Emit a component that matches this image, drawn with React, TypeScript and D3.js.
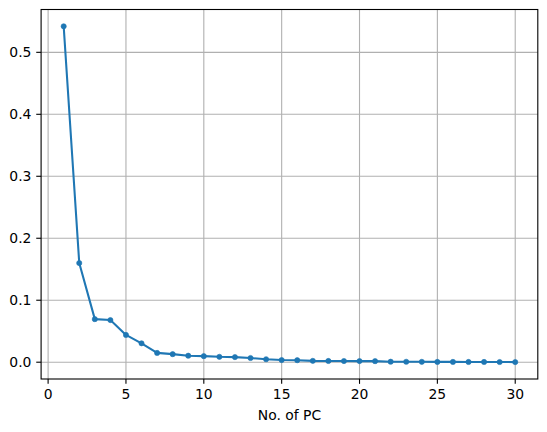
import React from "react";
import * as d3 from "d3";

const pcs: number[] = Array.from({ length: 30 }, (_, i) => i + 1);
const variance: number[] = [
  0.542, 0.16, 0.0695, 0.068, 0.044, 0.0305, 0.015, 0.013, 0.0105, 0.0098,
  0.0087, 0.0082, 0.0068, 0.0048, 0.0035, 0.0032, 0.0022, 0.002, 0.0019, 0.0018,
  0.0017, 0.0008, 0.0007, 0.0006, 0.0005, 0.0005, 0.0004, 0.0004, 0.0003, 0.0002,
];
const xTicks: number[] = [0, 5, 10, 15, 20, 25, 30];
const yTicks: number[] = [0, 0.1, 0.2, 0.3, 0.4, 0.5];
const xLabel = "No. of PC";

export default function App() {
  const W = 547, H = 432;
  const left = 41.1, right = 537.8, top = 9.5, bottom = 379;
  const x = d3.scaleLinear().domain([-0.45, 31.45]).range([left, right]);
  const y = d3.scaleLinear().domain([-0.0271, 0.5691]).range([bottom, top]);
  const data = pcs.map((p, i) => [p, variance[i]] as [number, number]);
  const line = d3.line<[number, number]>().x(d => x(d[0])).y(d => y(d[1]));
  const font = "'DejaVu Sans', sans-serif";
  const fs = 13.9;
  return (
    <svg width={W} height={H} style={{ position: "absolute", left: 0, top: 0, background: "#fff" }}>
      <rect x={0} y={0} width={W} height={H} fill="#fff" />
      {xTicks.map(t => (
        <line key={"gx" + t} x1={x(t)} x2={x(t)} y1={top} y2={bottom} stroke="#b0b0b0" strokeWidth={1.1} />
      ))}
      {yTicks.map(t => (
        <line key={"gy" + t} x1={left} x2={right} y1={y(t)} y2={y(t)} stroke="#b0b0b0" strokeWidth={1.1} />
      ))}
      <path d={line(data) || ""} fill="none" stroke="#1f77b4" strokeWidth={2.08} strokeLinejoin="round" strokeLinecap="square" />
      {data.map((d, i) => (
        <circle key={"m" + i} cx={x(d[0])} cy={y(d[1])} r={2.6} fill="#1f77b4" stroke="#1f77b4" strokeWidth={0.6} />
      ))}
      <rect x={left} y={top} width={right - left} height={bottom - top} fill="none" stroke="#000" strokeWidth={1.1} />
      {xTicks.map(t => (
        <g key={"tx" + t}>
          <line x1={x(t)} x2={x(t)} y1={bottom} y2={bottom + 4.86} stroke="#000" strokeWidth={1.1} />
          <text x={x(t)} y={bottom + 9.7} dy="0.76em" textAnchor="middle" fontFamily={font} fontSize={fs} fill="#000">{t}</text>
        </g>
      ))}
      {yTicks.map(t => (
        <g key={"ty" + t}>
          <line x1={left - 4.86} x2={left} y1={y(t)} y2={y(t)} stroke="#000" strokeWidth={1.1} />
          <text x={left - 9.7} y={y(t)} dy="0.36em" textAnchor="end" fontFamily={font} fontSize={fs} fill="#000">{t.toFixed(1)}</text>
        </g>
      ))}
      <text x={(left + right) / 2} y={bottom + 30} dy="0.76em" textAnchor="middle" fontFamily={font} fontSize={fs} fill="#000">{xLabel}</text>
    </svg>
  );
}
